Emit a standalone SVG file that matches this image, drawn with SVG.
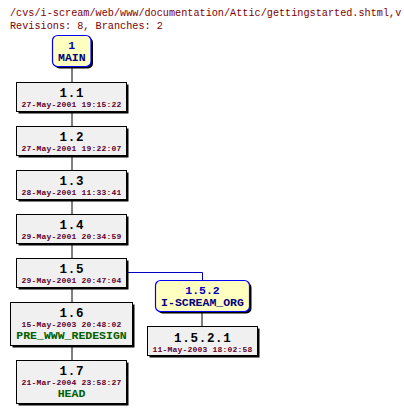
<svg xmlns="http://www.w3.org/2000/svg" width="404" height="413" viewBox="0 0 404 413">
<style>
text{font-family:"Liberation Mono","DejaVu Sans Mono",monospace;text-anchor:middle}
.hdr{fill:#800000;font-size:10.2px;text-anchor:start}
.box{fill:#f0f0f0;stroke:#000;stroke-width:1}
.sh{fill:#000}
.br{fill:#ffffc0;stroke:#0000ff;stroke-width:1.2}
.rev{font-size:12.5px;letter-spacing:0.7px;font-weight:bold;fill:#000}
.date{font-size:8px;letter-spacing:0.2px;font-weight:bold;fill:#600030}
.tag{font-size:11.5px;font-weight:bold;fill:#006000}
.brev{font-size:11.5px;font-weight:bold;fill:#0000c0}
.bname{font-size:11.5px;font-weight:bold;fill:#000080}
.ln{stroke:#000;stroke-width:1;fill:none}
.bl{stroke:#0000c0;stroke-width:1;fill:none}
</style>
<rect width="404" height="413" fill="#fff"/>
<text class="hdr" x="10" y="16">/cvs/i-scream/web/www/documentation/Attic/gettingstarted.shtml,v</text>
<text class="hdr" x="10" y="28.5">Revisions: 8, Branches: 2</text>
<g id="connectors">
<path class="ln" d="M72 67V82.5M72 112V126.5M72 156V170.5M72 200V214.5M72 244V258.5M72 288V302.5M72 346V360.5M202 312V326.5"/>
<path class="bl" d="M127 272.5H202.5V280"/>
</g>
<g id="n-main">
<rect class="sh" x="54.5" y="37.5" width="38.5" height="31" rx="5"/>
<rect class="br" x="52.5" y="35.5" width="38.5" height="31" rx="5"/>
<text class="brev" x="71.8" y="48.5">1</text>
<text class="bname" x="71.8" y="60.5">MAIN</text>
</g>
<g id="n-1.1">
<rect class="sh" x="18.5" y="84.5" width="110" height="29"/>
<rect class="box" x="16.5" y="82.5" width="110" height="29"/>
<text class="rev" x="71.8" y="97.3">1.1</text>
<text class="date" x="71.5" y="106.8">27-May-2001 19:15:22</text>
</g>
<g id="n-1.2">
<rect class="sh" x="18.5" y="128.5" width="110" height="29"/>
<rect class="box" x="16.5" y="126.5" width="110" height="29"/>
<text class="rev" x="71.8" y="141.3">1.2</text>
<text class="date" x="71.5" y="150.8">27-May-2001 19:22:07</text>
</g>
<g id="n-1.3">
<rect class="sh" x="18.5" y="172.5" width="110" height="29"/>
<rect class="box" x="16.5" y="170.5" width="110" height="29"/>
<text class="rev" x="71.8" y="185.3">1.3</text>
<text class="date" x="71.5" y="194.8">28-May-2001 11:33:41</text>
</g>
<g id="n-1.4">
<rect class="sh" x="18.5" y="216.5" width="110" height="29"/>
<rect class="box" x="16.5" y="214.5" width="110" height="29"/>
<text class="rev" x="71.8" y="229.3">1.4</text>
<text class="date" x="71.5" y="238.8">29-May-2001 20:34:59</text>
</g>
<g id="n-1.5">
<rect class="sh" x="18.5" y="260.5" width="110" height="29"/>
<rect class="box" x="16.5" y="258.5" width="110" height="29"/>
<text class="rev" x="71.8" y="273.3">1.5</text>
<text class="date" x="71.5" y="282.8">29-May-2001 20:47:04</text>
</g>
<g id="n-1.6">
<rect class="sh" x="12.5" y="304.5" width="122" height="43"/>
<rect class="box" x="10.5" y="302.5" width="122" height="43"/>
<text class="rev" x="71.8" y="317.1">1.6</text>
<text class="date" x="71.5" y="326.8">15-May-2003 20:48:02</text>
<text class="tag" x="71.5" y="338.8">PRE_WWW_REDESIGN</text>
</g>
<g id="n-1.7">
<rect class="sh" x="18.5" y="362.5" width="110" height="43"/>
<rect class="box" x="16.5" y="360.5" width="110" height="43"/>
<text class="rev" x="71.8" y="375.1">1.7</text>
<text class="date" x="71.5" y="384.8">21-Mar-2004 23:58:27</text>
<text class="tag" x="71.5" y="397">HEAD</text>
</g>
<g id="n-1.5.2">
<rect class="sh" x="157.5" y="282.5" width="94" height="31" rx="5"/>
<rect class="br" x="155.5" y="280.5" width="94" height="31" rx="5"/>
<text class="brev" x="202.5" y="294.2">1.5.2</text>
<text class="bname" x="202.5" y="306.2">I-SCREAM_ORG</text>
</g>
<g id="n-1.5.2.1">
<rect class="sh" x="149.5" y="328.5" width="110" height="29"/>
<rect class="box" x="147.5" y="326.5" width="110" height="29"/>
<text class="rev" x="202.8" y="342.3">1.5.2.1</text>
<text class="date" x="202.5" y="351.8">11-May-2003 18:02:58</text>
</g>
</svg>
